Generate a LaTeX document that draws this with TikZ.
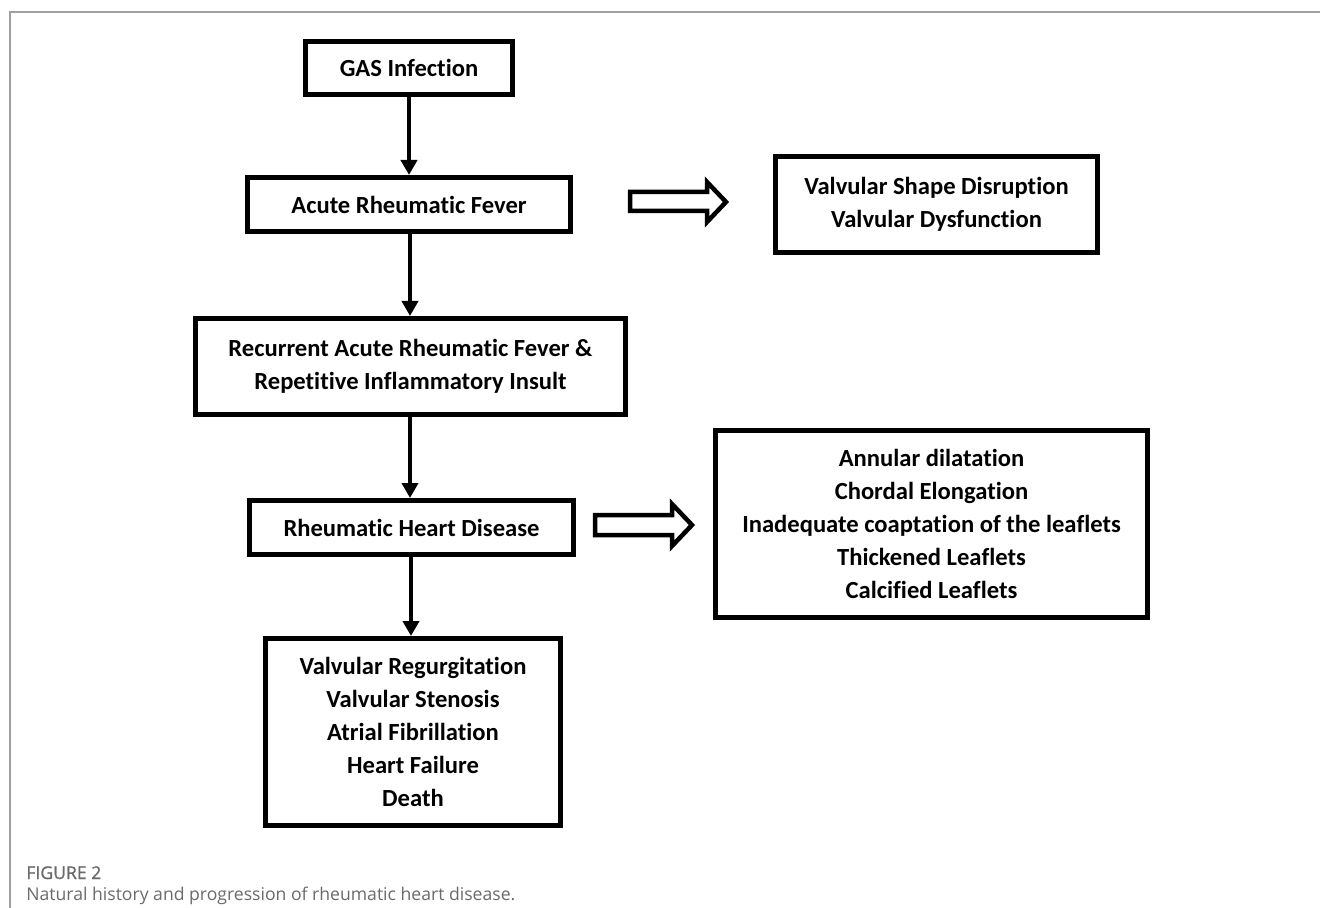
\documentclass[tikz,border=0pt]{standalone}
\usepackage{fontspec}
\setmainfont{Carlito}[Ligatures={NoCommon}]
\newfontfamily\capfont{Open Sans}
\newfontfamily\capsemi{Open Sans}[FakeBold=1]
\usetikzlibrary{arrows.meta}
\definecolor{framegray}{HTML}{A0A0A0}
\definecolor{capgray}{HTML}{6A6A6A}
\begin{document}
\begin{tikzpicture}[x=0.5pt,y=-0.5pt,
  box/.style={draw,line width=2.5pt,align=center,inner sep=0pt,
    font=\fontsize{12.3}{16.5}\selectfont\bfseries},
  flow/.style={line width=2pt,-{Triangle[width=8pt,length=7.5pt]}},
  hollow/.style={draw,line width=2.25pt,fill=white,miter limit=10},
  captext/.style={anchor=base west,inner sep=0pt,text=capgray,font=\capfont\fontsize{8.8}{11}\selectfont}]
\useasboundingbox (0,0) rectangle (1320,908);
\draw[framegray,line width=0.75pt] (1320,12) -- (10,12) -- (10,908);

\node[box,minimum width=103.5pt,minimum height=26.5pt] (gas) at (409,68) {GAS Infection};
\node[box,minimum width=161.5pt,minimum height=27pt] (arf) at (409,204.5) {Acute Rheumatic Fever};
\node[box,minimum width=161pt,minimum height=48pt] (valv) at (936.5,204.5) {Valvular Shape Disruption\\Valvular Dysfunction};
\node[box,minimum width=215pt,minimum height=48pt] (rec) at (410.5,366.5) {Recurrent Acute Rheumatic Fever \&\\Repetitive Inflammatory Insult};
\node[box,minimum width=162pt,minimum height=27pt] (rhd) at (411.5,527.5) {Rheumatic Heart Disease};
\node[box,minimum width=216pt,minimum height=93.5pt] (ann) at (931.5,524) {Annular dilatation\\Chordal Elongation\\Inadequate coaptation of the leaflets\\Thickened Leaflets\\Calcified Leaflets};
\node[box,minimum width=147.5pt,minimum height=93.5pt] (out) at (413,732) {Valvular Regurgitation\\Valvular Stenosis\\Atrial Fibrillation\\Heart Failure\\Death};

\coordinate (a1) at (409,97);
\coordinate (a2) at (410,233);
\coordinate (a3) at (410,416);
\coordinate (a4) at (411,556);
\draw[flow] (a1) -- (a1 |- arf.north);
\draw[flow] (a2) -- (a2 |- rec.north);
\draw[flow] (a3) -- (a3 |- rhd.north);
\draw[flow] (a4) -- (a4 |- out.north);

\draw[hollow] (630,192) -- (707,192) -- (707,182) -- (726,202) -- (707,222) -- (707,211) -- (630,211) -- cycle;
\draw[hollow] (595,515) -- (672,515) -- (672,504) -- (692,525) -- (672,546) -- (672,535) -- (595,535) -- cycle;

\node[captext,font=\capsemi\fontsize{8.8}{11}\selectfont] (fig) at (26,879) {FIGURE 2};
\node[captext] (capt) at (26,900) {Natural history and progression of rheumatic heart disease.};
\end{tikzpicture}
\end{document}
